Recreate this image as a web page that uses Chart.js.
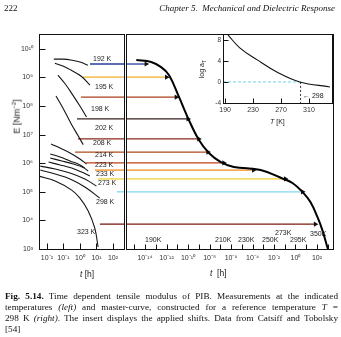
<!DOCTYPE html>
<html>
<head>
<meta charset="utf-8">
<script src="https://cdn.jsdelivr.net/npm/chart.js@4.4.1/dist/chart.umd.min.js"></script>
<style>
  body { margin: 0; background: #fff; }
  #page { position: relative; width: 341px; height: 337px; overflow: hidden; font-family: "Liberation Sans", sans-serif; color: #222; }
  canvas { position: absolute; left: 0; top: 0; }
  .t { position: absolute; white-space: nowrap; font-size: 7px; line-height: 8px; }
  .serif { font-family: "Liberation Serif", serif; color: #111; }
  .cap { position: absolute; left: 5px; width: 333px; font-size: 9.2px; line-height: 11px; text-align: justify; text-align-last: justify; white-space: nowrap; }
</style>
</head>
<body>
<div id="page">
  <canvas id="left" width="341" height="337"></canvas>
  <canvas id="right" width="341" height="337"></canvas>
  <canvas id="inset" width="341" height="337"></canvas>

  <div class="t serif" style="left:4px;top:3px;font-size:9px;line-height:10px">222</div>
  <div class="t serif" style="right:6px;top:3px;font-size:9px;line-height:10px;font-style:italic">Chapter 5.&nbsp; Mechanical and Dielectric Response</div>

  <div class="t" style="left:93px;top:55px">192 K</div>
  <div class="t" style="left:95px;top:83px">195 K</div>
  <div class="t" style="left:91px;top:105px">198 K</div>
  <div class="t" style="left:95px;top:124px">202 K</div>
  <div class="t" style="left:93px;top:139px">208 K</div>
  <div class="t" style="left:95px;top:151px">214 K</div>
  <div class="t" style="left:95px;top:161px">223 K</div>
  <div class="t" style="left:96px;top:170px">233 K</div>
  <div class="t" style="left:98px;top:179px">273 K</div>
  <div class="t" style="left:96px;top:198px">298 K</div>
  <div class="t" style="left:77px;top:228px">323 K</div>

  <div class="t" style="left:145px;top:236px">190K</div>
  <div class="t" style="left:215px;top:236px">210K</div>
  <div class="t" style="left:238px;top:236px">230K</div>
  <div class="t" style="left:262px;top:236px">250K</div>
  <div class="t" style="left:275px;top:229px">273K</div>
  <div class="t" style="left:290px;top:236px">295K</div>
  <div class="t" style="left:310px;top:230px">350K</div>

  <div class="t" style="left:-2px;top:110px;font-size:9px;line-height:10px;transform:rotate(-90deg)">E [Nm<sup style="font-size:6px">−2</sup>]</div>
  <div class="t" style="left:80px;top:269px;font-size:8.5px;line-height:10px"><i>t</i> [h]</div>
  <div class="t" style="left:210px;top:268px;font-size:8.5px;line-height:10px"><i>t</i>&nbsp; [h]</div>

  <div class="t" style="left:194px;top:64px;transform:rotate(-90deg)">log a<sub style="font-size:5px">T</sub></div>
  <div class="t" style="left:270px;top:118px"><i>T</i> [K]</div>
  <div class="t" style="left:303px;top:92px">← 298</div>

  <div class="cap serif" style="top:291px"><b>Fig. 5.14.</b> Time dependent tensile modulus of PIB. Measurements at the indicated</div>
  <div class="cap serif" style="top:302px">temperatures <i>(left)</i> and master-curve, constructed for a reference temperature <i>T</i> =</div>
  <div class="cap serif" style="top:313px">298 K <i>(right)</i>. The insert displays the applied shifts. Data from Catsiff and Tobolsky</div>
  <div class="cap serif" style="top:324px;text-align-last:left">[54]</div>
</div>

<script>
// measured curves, left panel: log10 t [h] vs log10 E [N m^-2]
const leftLogT = [
  [-1.58, -1.03, -0.55, 0, 0.48],
  [-1.52, -1.03, -0.55, 0.06, 0.61],
  [-1.33, -0.9, -0.45, 0, 0.4],
  [-1.45, -1.0, -0.55, -0.1, 0.2],
  [-1.75, -1.2, -0.6, 0, 0.4],
  [-1.8, -1.2, -0.6, 0, 0.3],
  [-1.8, -1.1, -0.4, 0.2, 0.5],
  [-1.9, -1.2, -0.5, 0.1, 0.6],
  [-2.4, -1.5, -0.6, 0.3, 1.0],
  [-2.4, -1.5, -0.6, 0.3, 1.2],
  [-2.5, -1.5, -0.5, 0, 0.5, 0.9, 1.1]
]
const leftLogE = [
  [9.64, 9.64, 9.61, 9.54, 9.43],
  [9.50, 9.40, 9.26, 9.05, 8.73],
  [9.08, 8.78, 8.40, 8.0, 7.62],
  [8.35, 7.9, 7.4, 6.95, 6.65],
  [6.67, 6.53, 6.36, 6.15, 5.97],
  [6.32, 6.22, 6.08, 5.94, 5.83],
  [6.18, 6.08, 5.97, 5.85, 5.73],
  [6.04, 5.94, 5.83, 5.69, 5.55],
  [5.90, 5.80, 5.66, 5.45, 5.20],
  [5.76, 5.62, 5.45, 5.17, 4.78],
  [5.55, 5.38, 5.06, 4.78, 4.33, 3.73, 3.07]
]

// shift arrows: level, start in left panel, head on the master curve
const arrowLogE = [9.47, 9.01, 8.31, 7.55, 6.85, 6.39, 6.01, 5.76, 5.45, 5.0, 3.87]
const arrowFromLogT = [0.61, 0.18, 0.06, -0.18, -0.12, -0.3, 0.36, 0.91, 1.09, 2.24, 1.21]
const arrowToLogT = [-13.9, -12.0, -11.1, -10.0, -9.0, -8.15, -6.67, -3.9, -0.93, 0.65, 1.85]
const arrowColors = ["#2a3c9a", "#f0b020", "#a8401c", "#3a2020", "#8a2a1a", "#b04a1a",
                     "#c0401a", "#f08a20", "#f0d030", "#80d8f0", "#7a1a10"]

// master curve at 298 K
const masterLogT = [-14.81, -13.43, -12.5, -11.76, -10.83, -10.0, -8.98, -8.06, -6.94, -5.74,
                    -3.24, -1.11, -0.28, 0.65, 1.39, 2.04, 2.5, 2.96, 3.02]
const masterLogE = [9.61, 9.54, 9.36, 9.08, 8.31, 7.58, 6.81, 6.36, 6.04, 5.87,
                    5.76, 5.45, 5.31, 5.0, 4.64, 4.12, 3.66, 3.07, 3.0]

// insert: shift factors
const insetT = [194, 211, 236, 264, 297, 340]
const insetLogA = [8.95, 6.48, 4.19, 1.9, 0, -0.95]

const leftTicksX = [-2, -1, 0, 1, 2]
const ticksY = [3, 4, 5, 6, 7, 8, 9, 10]
const rightTicksX = [-15, -14, -13, -12, -11, -10, -9, -8, -7, -6, -5, -4, -3, -2, -1, 0, 1, 2, 3]
const insetTicksX = [190, 230, 270, 310]
const insetTicksY = [-4, 0, 4, 8]

const SUP = { "-": "⁻", "0": "⁰", "1": "¹", "2": "²", "3": "³", "4": "⁴", "5": "⁵", "6": "⁶", "7": "⁷", "8": "⁸", "9": "⁹" }
const pow10 = v => "10" + String(v).split("").map(c => SUP[c]).join("")
const pts = (xs, ys) => xs.map((x, i) => ({ x, y: ys[i] }))
const tickFont = { family: "Liberation Sans", size: 7 }
const crisp = v => Math.round(v) + 0.5

// box around the plot area, tick marks pointing inwards
const frame = {
  id: "frame",
  beforeDraw(chart, args, opts) {
    if (!opts.fill) return
    const a = chart.chartArea
    chart.ctx.save()
    chart.ctx.fillStyle = opts.fill
    chart.ctx.fillRect(a.left, a.top, a.right - a.left, a.bottom - a.top)
    chart.ctx.restore()
  },
  afterDraw(chart, args, opts) {
    const { ctx, chartArea: a, scales } = chart
    const l = crisp(a.left), r = crisp(a.right), t = crisp(a.top), b = crisp(a.bottom)
    ctx.save()
    ctx.strokeStyle = "#111"
    ctx.lineWidth = 1
    ctx.strokeRect(l, t, r - l, b - t)
    const len = opts.tick || 5
    ctx.beginPath()
    scales.x.ticks.forEach(tk => {
      const px = crisp(scales.x.getPixelForValue(tk.value))
      ctx.moveTo(px, b)
      ctx.lineTo(px, b - len)
    })
    if (scales.y.options.display) {
      scales.y.ticks.forEach(tk => {
        const py = crisp(scales.y.getPixelForValue(tk.value))
        ctx.moveTo(l, py)
        ctx.lineTo(l + len, py)
      })
    }
    ctx.stroke()
    ctx.restore()
  }
}

function axisX(min, max, ticks, height, cb, pad) {
  return {
    type: "linear", min, max,
    grid: { display: false, drawTicks: false },
    border: { display: false },
    afterBuildTicks: s => { s.ticks = ticks.map(value => ({ value })) },
    afterFit: s => { s.height = height },
    ticks: { font: tickFont, color: "#333", padding: pad, maxRotation: 0, autoSkip: false, callback: cb }
  }
}

function axisY(min, max, ticks, width, cb, show) {
  return {
    type: "linear", min, max, display: show,
    grid: { display: false, drawTicks: false },
    border: { display: false },
    afterBuildTicks: s => { s.ticks = ticks.map(value => ({ value })) },
    afterFit: s => { s.width = width },
    ticks: { font: tickFont, color: "#333", padding: 6, autoSkip: false, callback: cb }
  }
}

const base = {
  responsive: false,
  animation: false,
  events: [],
  plugins: { legend: { display: false }, tooltip: { enabled: false } }
}

// left panel: measured curves
const leftSets = leftLogT.map((t, i) => ({
  data: pts(t, leftLogE[i]),
  borderColor: "#151515", borderWidth: 1.1, pointRadius: 0, tension: 0.4
}))
arrowLogE.forEach((e, i) => leftSets.push({
  data: [{ x: arrowFromLogT[i], y: e }, { x: 2.67, y: e }],
  borderColor: arrowColors[i], borderWidth: 1.3, pointRadius: 0
}))

new Chart(document.getElementById("left"), {
  type: "line",
  data: { datasets: leftSets },
  options: {
    ...base,
    layout: { padding: { left: 0, right: 217, top: 34, bottom: 68 } },
    scales: {
      x: axisX(-2.48, 2.67, leftTicksX, 20, v => pow10(v), 5),
      y: axisY(3, 10.52, ticksY, 39, v => pow10(v), true)
    },
    plugins: { ...base.plugins, frame: { tick: 6 } }
  },
  plugins: [frame]
})

// right panel: master curve with shift arrows
const rightSets = [{
  data: pts(masterLogT, masterLogE),
  borderColor: "#000", borderWidth: 2, pointRadius: 0, tension: 0.4
}]
arrowLogE.forEach((e, i) => rightSets.push({
  data: [{ x: -15.77, y: e }, { x: arrowToLogT[i], y: e }],
  borderColor: arrowColors[i], borderWidth: 1.3,
  pointRadius: [0, 3], pointStyle: "triangle", pointRotation: 90,
  pointBackgroundColor: "#111", pointBorderColor: "#111", pointBorderWidth: 0
}))

new Chart(document.getElementById("right"), {
  type: "line",
  data: { datasets: rightSets },
  options: {
    ...base,
    layout: { padding: { left: 126, right: 8, top: 34, bottom: 68 } },
    scales: {
      x: axisX(-15.77, 3.49, rightTicksX, 20, v => (v % 2 === 0 ? pow10(v) : ""), 5),
      y: axisY(3, 10.52, ticksY, 0, v => "", false)
    },
    plugins: { ...base.plugins, frame: { tick: 5 } }
  },
  plugins: [frame]
})

// insert: log a_T against T
new Chart(document.getElementById("inset"), {
  type: "line",
  data: {
    datasets: [
      { data: pts(insetT, insetLogA), borderColor: "#111", borderWidth: 1.1, pointRadius: 0, tension: 0.4 },
      { data: [{ x: 187, y: 0 }, { x: 298, y: 0 }], borderColor: "#70d4ee", borderWidth: 1, borderDash: [3, 2], pointRadius: 0 },
      { data: [{ x: 298, y: 0 }, { x: 298, y: -4 }], borderColor: "#333", borderWidth: 1, borderDash: [2, 2], pointRadius: 0 }
    ]
  },
  options: {
    ...base,
    layout: { padding: { left: 211, right: 9, top: 34, bottom: 222 } },
    scales: {
      x: axisX(187, 343, insetTicksX, 12, v => String(v), 3),
      y: { ...axisY(-4, 9.1, insetTicksY, 12, v => String(v), true), ticks: { font: { family: "Liberation Sans", size: 6.5 }, color: "#333", padding: 2, autoSkip: false } }
    },
    plugins: { ...base.plugins, frame: { tick: 5, fill: "#fff" } }
  },
  plugins: [frame]
})
</script>
</body>
</html>
